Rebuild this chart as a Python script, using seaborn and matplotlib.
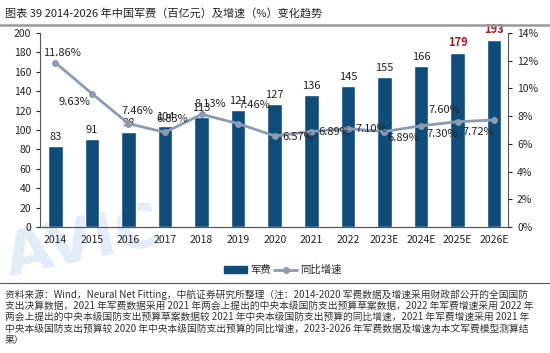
import matplotlib
matplotlib.use('Agg')
import matplotlib.pyplot as plt
import seaborn as sns
import pandas as pd
from matplotlib.lines import Line2D
from matplotlib.patches import Patch

# Данные графика
YEARS = ['2014', '2015', '2016', '2017', '2018', '2019', '2020',
         '2021', '2022', '2023E', '2024E', '2025E', '2026E']
SPENDING = [83, 91, 98, 104, 113, 121, 127, 136, 145, 155, 166, 179, 193]
GROWTH = [11.86, 9.63, 7.46, 6.83, 8.13, 7.46, 6.57, 6.89, 7.10, 6.89, 7.30, 7.60, 7.72]
GROWTH_LABELS = ['11.86%', '9.63%', '7.46%', '6.83%', '8.13%', '7.46%', '6.57%',
                 '6.89%', '7.10%', '6.89%', '7.30%', '7.60%', '7.72%']

TITLE = '图表 39 2014-2026 年中国军费（百亿元）及增速（%）变化趋势'
NOTE_LINES = [
    '资料来源：Wind，Neural Net Fitting，中航证券研究所整理（注：2014-2020 军费数据及增速采用财政部公开的全国国防',
    '支出决算数据，2021 年军费数据采用 2021 年两会上提出的中央本级国防支出预算草案数据，2022 年军费增速采用 2022 年',
    '两会上提出的中央本级国防支出预算草案数据较 2021 年中央本级国防支出预算的同比增速，2021 年军费增速采用 2021 年',
    '中央本级国防支出预算较 2020 年中央本级国防支出预算的同比增速，2023-2026 年军费数据及增速为本文军费模型测算结',
    '果）',
]

BAR_COLOR = '#0f4c7a'
LINE_COLOR = '#8a9bb3'
RED = '#9e1b22'

sns.set_style('white')
plt.rcParams['font.family'] = ['Noto Sans CJK SC', 'DejaVu Sans']

df = pd.DataFrame({'year': YEARS, 'spending': SPENDING, 'growth': GROWTH})

fig = plt.figure(figsize=(5.5, 3.53), dpi=100)
W, H = 550, 353

# Водяной знак
fig.text(0.0, 0.22, 'AVIC', fontsize=44, color='#e2edf7', rotation=12,
         fontweight='bold', zorder=-5, family='DejaVu Sans')

ax = fig.add_axes([40 / W, 1 - 227 / H, (508 - 40) / W, (227 - 33) / H])
ax.patch.set_alpha(0)
sns.barplot(data=df, x='year', y='spending', color=BAR_COLOR, width=0.4,
            saturation=1, ax=ax, zorder=2)
ax.set_ylim(0, 200)
ax.set_yticks(range(0, 201, 20))
ax.set_xlim(-0.42, 12.38)
ax.set_xlabel('')
ax.set_ylabel('')

for i, p in enumerate(ax.patches):
    big = i >= len(ax.patches) - 2
    ax.annotate(f"{SPENDING[i]}", (p.get_x() + p.get_width() / 2, p.get_height()),
                xytext=(0, 4), textcoords='offset pixels', ha='center', va='bottom',
                fontsize=8, color=RED if big else '#222222',
                fontweight='bold' if big else 'normal', zorder=5,
                annotation_clip=False)

ax2 = ax.twinx()
sns.lineplot(data=df, x='year', y='growth', color=LINE_COLOR, linewidth=2,
             marker='o', markersize=5, markeredgewidth=0, ax=ax2, zorder=3)
ax2.set_ylim(0, 14)
ax2.set_yticks(range(0, 15, 2))
ax2.set_yticklabels([f'{v}%' for v in range(0, 15, 2)])
ax2.set_xlim(-0.42, 12.38)
ax2.set_ylabel('')
ax2.set_xlabel('')

# смещения подписей процентов (в пикселях)
offsets = [(7, 10), (-17, -8), (9, 13), (7, 13), (9, 10), (16, 19), (24, -1),
           (23, 0), (23, 0), (19, -6), (21, -8), (-13, 12), (-16, -12)]
for i, (lab, off) in enumerate(zip(GROWTH_LABELS, offsets)):
    ax2.annotate(lab, (i, GROWTH[i]), xytext=off, textcoords='offset pixels',
                 ha='center', va='center', fontsize=8, color='#222222', zorder=6)

for a in (ax, ax2):
    a.spines['top'].set_visible(False)
    for s in ('left', 'right', 'bottom'):
        a.spines[s].set_color('#555555')
        a.spines[s].set_linewidth(0.8)
    a.tick_params(labelsize=7.5, colors='#222222', length=3, width=0.8, direction='out')
ax.tick_params(axis='y', left=True)
ax.tick_params(axis='x', length=0, pad=6)
ax2.tick_params(axis='y', right=True)
ax2.spines['left'].set_visible(False)
ax.spines['right'].set_visible(False)
ax.grid(False)
ax2.grid(False)

# Легенда
handles = [Patch(color=BAR_COLOR, label='军费'),
           Line2D([0], [0], color=LINE_COLOR, lw=2, marker='o', markersize=4, label='同比增速')]
fig.legend(handles=handles, loc='center', bbox_to_anchor=(283 / W, 1 - 270 / H), ncol=2,
           frameon=False, fontsize=7.5, handlelength=2.2, handletextpad=0.3,
           columnspacing=0.3)

# Заголовок и линии-разделители
fig.text(5 / W, 1 - 13 / H, TITLE, fontsize=8, color='#222222', va='center', ha='left')
fig.add_artist(Line2D([0, 1], [1 - 25 / H, 1 - 25 / H], color='#999999', lw=1.8))
fig.add_artist(Line2D([0, 1], [1 - 283 / H, 1 - 283 / H], color='#555555', lw=0.8))

note_y = [294.5, 305.8, 317.2, 328.6, 340.5]
for y, line in zip(note_y, NOTE_LINES):
    fig.text(5 / W, 1 - y / H, line, fontsize=7.0, color='#333333', va='center',
             ha='left', style='italic')

fig.savefig('out.png', dpi=100)
